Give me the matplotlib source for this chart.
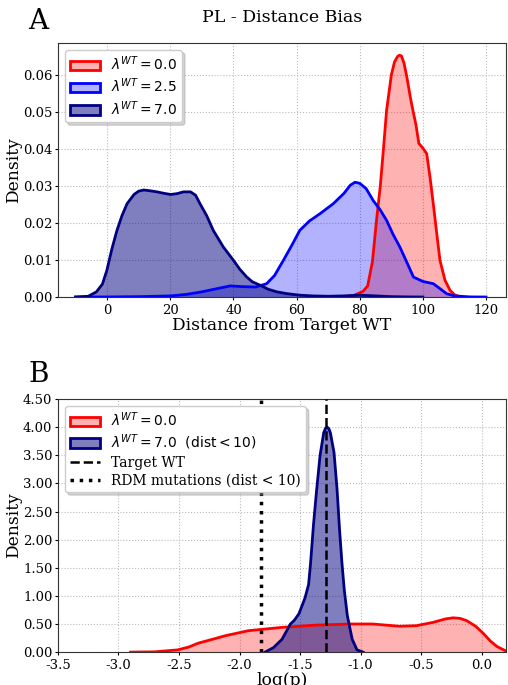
import numpy as np
from matplotlib import pyplot as plt
from matplotlib import colors as mcolors
from matplotlib.patches import Patch
from matplotlib.lines import Line2D
from matplotlib import ticker as tk

# panel A: density of distance from target WT
dist_red_x = [74, 78, 81, 82.5, 84, 85.3, 86.5, 87.5, 88.5, 90, 91, 92, 92.6, 93.2, 94, 95, 96,
              96.8, 97.8, 98.7, 100, 101.2, 102.3, 103.3, 104.4, 105.4, 107, 108.6, 110, 112]
dist_red_y = [0, 0.0004, 0.0015, 0.003, 0.0095, 0.0207, 0.030, 0.040, 0.0505, 0.060, 0.0635,
              0.0650, 0.0653, 0.0651, 0.0632, 0.059, 0.054, 0.0505, 0.0465, 0.0415, 0.0402,
              0.0387, 0.032, 0.025, 0.017, 0.0099, 0.0045, 0.0018, 0.0006, 0]

dist_blue_x = [-10, 0, 10, 20, 25, 30, 35, 39, 43, 47, 50.5, 53, 55.8, 58.5, 61, 64, 67.4,
               71.6, 75, 77, 78.5, 80, 82, 84.3, 86.5, 88.5, 90.5, 92.7, 95, 97, 100, 103.3,
               105.5, 107.5, 110, 115, 120]
dist_blue_y = [0, 0.00002, 0.0001, 0.0003, 0.0007, 0.0014, 0.0023, 0.003, 0.0028, 0.0027,
               0.0036, 0.0058, 0.0099, 0.014, 0.018, 0.0205, 0.0225, 0.0252, 0.028, 0.0302,
               0.031, 0.0307, 0.0293, 0.026, 0.0235, 0.0207, 0.017, 0.0135, 0.0092, 0.0054,
               0.0042, 0.0036, 0.0022, 0.0009, 0.0003, 0.00003, 0]

dist_navy_x = [-10, -6, -3.4, -1.5, -0.1, 1.5, 3.1, 4.7, 6.3, 8.5, 10, 11.6, 13.5, 15.8, 18,
               20.1, 22, 24.2, 26.4, 28, 29.4, 31.5, 33.6, 36.8, 40, 42, 44.2, 46, 48.4, 51,
               53.7, 57, 61, 65, 70, 75, 80, 85, 90, 95, 100]
dist_navy_y = [0, 0.0002, 0.0014, 0.0035, 0.0072, 0.013, 0.018, 0.022, 0.0252, 0.0277, 0.0286,
               0.0289, 0.0287, 0.0284, 0.028, 0.0277, 0.0279, 0.0284, 0.0284, 0.0275, 0.0252,
               0.022, 0.018, 0.0135, 0.0099, 0.0075, 0.0054, 0.0041, 0.0032, 0.0021, 0.0014,
               0.0009, 0.0005, 0.0003, 0.0002, 0.0003, 0.0005, 0.0003, 0.0001, 0.00003, 0]

# panel B: density of log(p)
logp_red_x = [-2.9, -2.7, -2.51, -2.42, -2.34, -2.22, -2.12, -1.93, -1.65, -1.37, -1.09, -0.90,
              -0.68, -0.54, -0.40, -0.30, -0.236, -0.18, -0.125, -0.05, 0.014, 0.07, 0.125,
              0.2, 0.25]
logp_red_y = [0, 0.005, 0.04, 0.09, 0.16, 0.23, 0.29, 0.38, 0.44, 0.48, 0.5, 0.5, 0.46, 0.47,
              0.53, 0.59, 0.61, 0.6, 0.56, 0.46, 0.33, 0.2, 0.1, 0.02, 0.005]

logp_navy_x = [-1.79, -1.72, -1.65, -1.58, -1.55, -1.51, -1.46, -1.43, -1.414, -1.39, -1.365,
               -1.335, -1.305, -1.29, -1.276, -1.262, -1.25, -1.22, -1.195, -1.175, -1.155,
               -1.135, -1.11, -1.07, -1.03, -0.98]
logp_navy_y = [0, 0.08, 0.226, 0.5, 0.56, 0.68, 0.96, 1.2, 1.57, 2.25, 2.85, 3.5, 3.9, 3.98,
               4.0, 3.97, 3.9, 3.55, 2.9, 2.2, 1.6, 1.1, 0.65, 0.23, 0.04, 0]

target_wt = -1.29
rdm_mut = -1.82

labels_a = [r'$\lambda^{WT} = 0.0$', r'$\lambda^{WT} = 2.5$', r'$\lambda^{WT} = 7.0$']
labels_b = [r'$\lambda^{WT} = 0.0$', r'$\lambda^{WT} = 7.0\ \ \mathrm{(dist} < 10)$',
            'Target WT', 'RDM mutations (dist < 10)']

plt.rcParams.update({'font.family': 'DejaVu Serif', 'font.size': 11,
                     'xtick.labelsize': 9.5, 'ytick.labelsize': 9.5,
                     'xtick.major.size': 2, 'ytick.major.size': 2,
                     'xtick.major.pad': 3, 'ytick.major.pad': 2})

fig = plt.figure(figsize=(5.08, 6.85), dpi=100)
ax1 = fig.add_axes([0.114, 0.5664, 0.882, 0.3708])
ax2 = fig.add_axes([0.114, 0.048, 0.882, 0.3695])

styles = [('red', 0.3), ('blue', 0.3), ('navy', 0.5)]
shadow = {'color': '0.55', 'alpha': 0.35}
leg_kw = dict(loc='upper left', fontsize=10, shadow=shadow, labelspacing=0.25,
              borderpad=0.35, handlelength=2.2)

for (c, a), xs, ys in zip(styles, [dist_red_x, dist_blue_x, dist_navy_x],
                          [dist_red_y, dist_blue_y, dist_navy_y]):
    ax1.fill_between(xs, ys, color=c, alpha=a, linewidth=0, zorder=2)
    ax1.plot(xs, ys, color=c, linewidth=2, zorder=3)

ax1.set_xlim(-15.6, 126.3)
ax1.set_ylim(0, 0.0686)
ax1.set_xticks(range(0, 121, 20))
ax1.set_yticks(np.arange(0, 0.061, 0.01))
ax1.yaxis.set_major_formatter(tk.FormatStrFormatter('%.2f'))
ax1.set_xlabel('Distance from Target WT', fontsize=12.3, labelpad=0)
ax1.set_ylabel('Density', fontsize=12.3)
ax1.yaxis.set_label_coords(-0.08, 0.5)
ax1.set_title('PL - Distance Bias', fontsize=12.5, pad=15)
ax1.grid(linestyle=':', color='#bbbbbb', zorder=0)
ax1.set_axisbelow(True)
handles = [Patch(facecolor=mcolors.to_rgba(c, a), edgecolor=c, linewidth=2) for c, a in styles]
ax1.legend(handles, labels_a, **leg_kw)
fig.text(0.055, 0.968, 'A', fontsize=20, ha='left', va='center')

for (c, a), xs, ys in zip([styles[0], styles[2]], [logp_red_x, logp_navy_x],
                          [logp_red_y, logp_navy_y]):
    ax2.fill_between(xs, ys, color=c, alpha=a, linewidth=0, zorder=2)
    ax2.plot(xs, ys, color=c, linewidth=2, zorder=3)
ax2.axvline(target_wt, color='black', linestyle='--', linewidth=1.8, zorder=4)
ax2.axvline(rdm_mut, color='black', linestyle=':', linewidth=2.5, zorder=4)

ax2.set_xlim(-3.5, 0.2)
ax2.set_ylim(0, 4.5)
ax2.set_xticks(np.arange(-3.5, 0.01, 0.5))
ax2.set_yticks(np.arange(0, 4.51, 0.5))
ax2.yaxis.set_major_formatter(tk.FormatStrFormatter('%.2f'))
ax2.xaxis.set_major_formatter(tk.FormatStrFormatter('%.1f'))
ax2.set_xlabel('log(p)', fontsize=12.3, labelpad=0)
ax2.set_ylabel('Density', fontsize=12.3)
ax2.yaxis.set_label_coords(-0.08, 0.5)
ax2.grid(linestyle=':', color='#bbbbbb', zorder=0)
ax2.set_axisbelow(True)
handles_b = [Patch(facecolor=mcolors.to_rgba(c, a), edgecolor=c, linewidth=2)
             for c, a in [styles[0], styles[2]]]
handles_b += [Line2D([], [], color='black', linestyle='--', linewidth=1.8),
              Line2D([], [], color='black', linestyle=':', linewidth=2.5)]
ax2.legend(handles_b, labels_b, **leg_kw)
fig.text(0.055, 0.453, 'B', fontsize=20, ha='left', va='center')

for ax in (ax1, ax2):
    for s in ax.spines.values():
        s.set_color('#333333')

fig.savefig('out.png', dpi=100)
